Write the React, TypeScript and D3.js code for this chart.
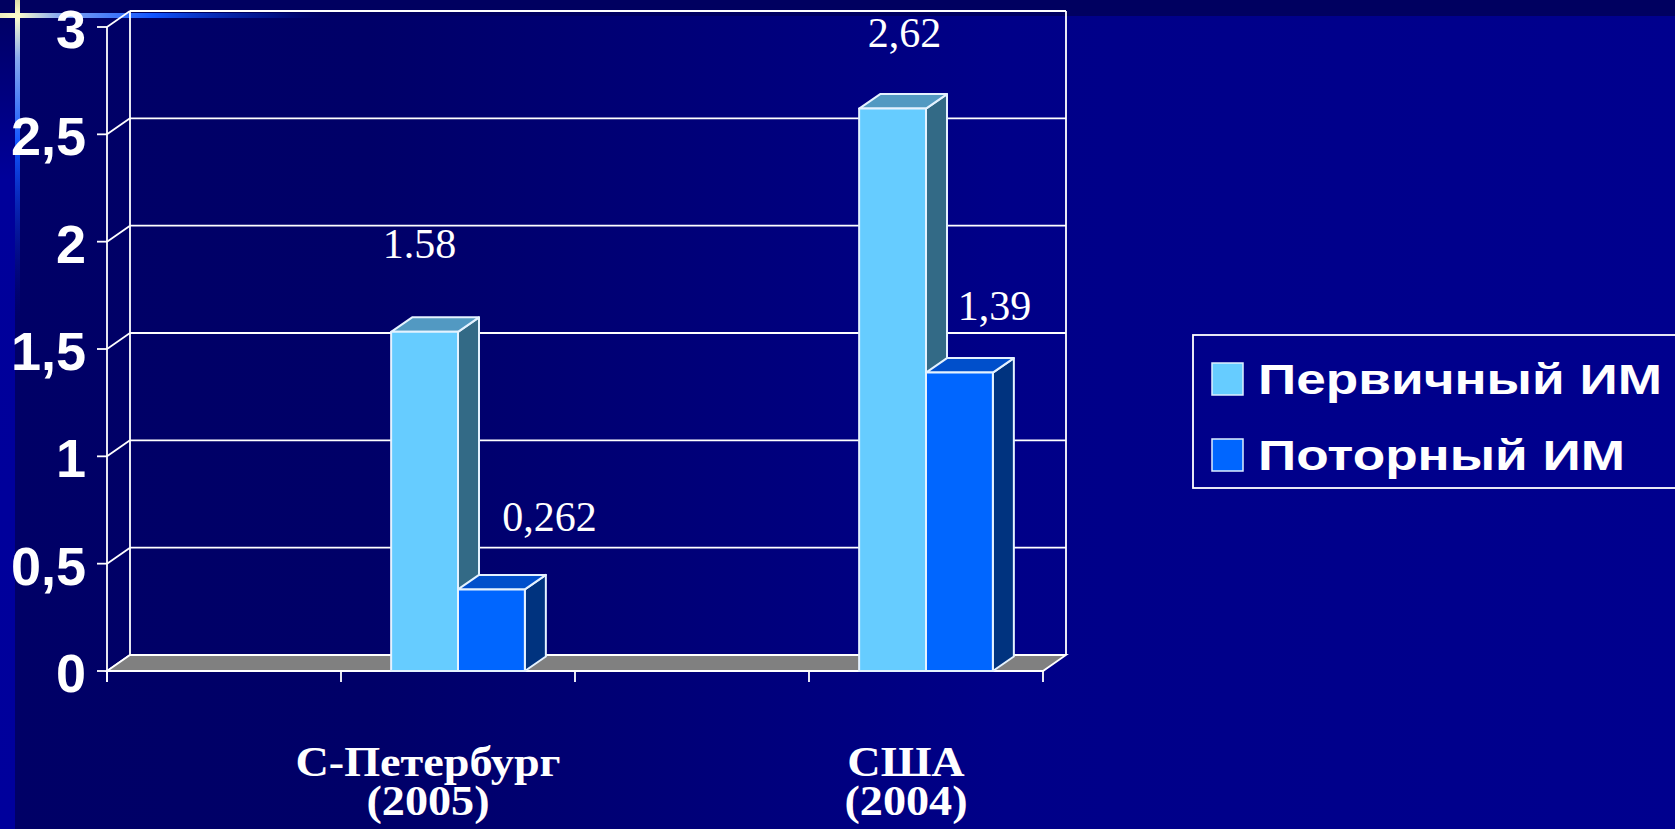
import React from "react";
import * as d3 from "d3";

// ---------- data ----------
const categories = ["c0", "spb", "c2", "usa"];
const categoryLines: string[][] = [[], ["С-Петербург", "(2005)"], [], ["США", "(2004)"]];
const seriesNames = ["Первичный ИМ", "Поторный ИМ"];
const primaryValues: (number | null)[] = [null, 1.58, null, 2.62];
const repeatValues: (number | null)[] = [null, 0.38, null, 1.39];
const primaryLabels = ["", "1.58", "", "2,62"];
const repeatLabels = ["", "0,262", "", "1,39"];
const yTicks = [0, 0.5, 1, 1.5, 2, 2.5, 3];
const yTickLabels = ["0", "0,5", "1", "1,5", "2", "2,5", "3"];

// ---------- layout / style ----------
const W = 1675;
const H = 829;
const PLOT_L = 107;
const PLOT_R = 1043;
const Y0 = 671;
const YTOP = 27;
const DX = 23;
const DY = 16;
const BDX = 21;
const BDY = 14.5;
const labelOffsets = [
  [null, [-5, -74], null, [12, -62]],
  [null, [58, -58], null, [35, -53]],
];
const catLabelShift = [0, -30, 0, -20];
const legendTextLen = [404, 367];

const faceColors = [
  { front: "#66CCFF", top: "#5299C2", side: "#336A86" },
  { front: "#0066FF", top: "#004FCB", side: "#00337F" },
];
const edge = "#E4F2FF";

export default function App() {
  const x0 = d3.scaleBand<string>().domain(categories).range([PLOT_L, PLOT_R]).paddingInner(0).paddingOuter(0);
  const x1 = d3
    .scaleBand<string>()
    .domain(seriesNames)
    .range([0, x0.bandwidth()])
    .paddingInner(0)
    .paddingOuter(0.75);
  const y = d3.scaleLinear().domain([0, 3]).range([Y0, YTOP]);

  const series = [primaryValues, repeatValues];
  const labels = [primaryLabels, repeatLabels];
  const boundaries = [...categories.map((c) => x0(c)!), PLOT_R];

  const bars: React.ReactNode[] = [];
  categories.forEach((c, ci) => {
    series.forEach((vals, si) => {
      const v = vals[ci];
      if (v == null) return;
      const x = x0(c)! + x1(seriesNames[si])!;
      const w = x1.bandwidth();
      const yt = y(v);
      const yb = y(0);
      const col = faceColors[si];
      bars.push(
        <g key={`b${ci}-${si}`} stroke={edge} strokeWidth={2} strokeLinejoin="round">
          <polygon
            points={`${x + w},${yt} ${x + w + BDX},${yt - BDY} ${x + w + BDX},${yb - BDY} ${x + w},${yb}`}
            fill={col.side}
          />
          <polygon
            points={`${x},${yt} ${x + BDX},${yt - BDY} ${x + w + BDX},${yt - BDY} ${x + w},${yt}`}
            fill={col.top}
          />
          <rect x={x} y={yt} width={w} height={yb - yt} fill={col.front} />
        </g>
      );
    });
  });

  const valueLabels: React.ReactNode[] = [];
  categories.forEach((c, ci) => {
    series.forEach((vals, si) => {
      const v = vals[ci];
      const off = labelOffsets[si][ci];
      if (v == null || !off) return;
      const cx = x0(c)! + x1(seriesNames[si])! + x1.bandwidth() / 2;
      valueLabels.push(
        <text
          key={`l${ci}-${si}`}
          x={cx + off[0]}
          y={y(v) + off[1]}
          textAnchor="middle"
          fill="#FFFFFF"
          fontFamily="'Liberation Serif', 'Times New Roman', serif"
          fontSize={42}
        >
          {labels[si][ci]}
        </text>
      );
    });
  });

  return (
    <div style={{ position: "absolute", left: 0, top: 0, width: W, height: H, overflow: "hidden" }}>
      <svg width={W} height={H} viewBox={`0 0 ${W} ${H}`} style={{ display: "block" }}>
        <defs>
          <linearGradient id="bg" x1="0" y1="0" x2="1" y2="0">
            <stop offset="0" stopColor="#000066" />
            <stop offset="0.22" stopColor="#000068" />
            <stop offset="0.6" stopColor="#000088" />
            <stop offset="1" stopColor="#00008E" />
          </linearGradient>
          <linearGradient id="leftStrip" x1="0" y1="0" x2="0" y2="1">
            <stop offset="0" stopColor="#000066" />
            <stop offset="0.2" stopColor="#00009A" />
            <stop offset="1" stopColor="#00009C" />
          </linearGradient>
          <linearGradient id="hline" x1="0" y1="0" x2="1" y2="0">
            <stop offset="0" stopColor="#EEEEC0" />
            <stop offset="0.05" stopColor="#FFFFCC" />
            <stop offset="0.17" stopColor="#88AAEE" />
            <stop offset="0.45" stopColor="#1155FF" />
            <stop offset="0.8" stopColor="#0022AA" stopOpacity="0.5" />
            <stop offset="1" stopColor="#000066" stopOpacity="0" />
          </linearGradient>
          <linearGradient id="vline" x1="0" y1="0" x2="0" y2="1">
            <stop offset="0" stopColor="#DDDDAA" />
            <stop offset="0.05" stopColor="#FFFFCC" />
            <stop offset="0.18" stopColor="#88AAEE" />
            <stop offset="0.45" stopColor="#1155FF" />
            <stop offset="1" stopColor="#00009C" stopOpacity="0" />
          </linearGradient>
        </defs>

        {/* background */}
        <rect x={0} y={0} width={W} height={H} fill="url(#bg)" />
        <rect x={0} y={0} width={W} height={16} fill="#000060" />
        <rect x={0} y={17} width={15} height={H - 17} fill="url(#leftStrip)" />
        <rect x={0} y={13} width={340} height={5} fill="url(#hline)" />
        <rect x={15} y={0} width={5} height={320} fill="url(#vline)" />

        {/* back wall grid */}
        <g stroke="#FFFFFF" strokeWidth={1.8} fill="none">
          {yTicks.slice(1).map((t) => (
            <line key={`g${t}`} x1={PLOT_L + DX} x2={PLOT_R + DX} y1={y(t) - DY} y2={y(t) - DY} />
          ))}
          {yTicks.map((t) => (
            <line key={`s${t}`} x1={PLOT_L} x2={PLOT_L + DX} y1={y(t)} y2={y(t) - DY} />
          ))}
          <line x1={PLOT_L + DX} x2={PLOT_L + DX} y1={y(3) - DY} y2={y(0) - DY} />
          <line x1={PLOT_R + DX} x2={PLOT_R + DX} y1={y(3) - DY} y2={y(0) - DY} />
        </g>

        {/* floor */}
        <polygon
          points={`${PLOT_L},${Y0} ${PLOT_R},${Y0} ${PLOT_R + DX},${Y0 - DY} ${PLOT_L + DX},${Y0 - DY}`}
          fill="#808080"
          stroke="#FFFFFF"
          strokeWidth={1.8}
        />

        {/* axes */}
        <g stroke="#FFFFFF" strokeWidth={1.8}>
          <line x1={PLOT_L} x2={PLOT_L} y1={y(3)} y2={Y0 + 11} />
          {yTicks.map((t) => (
            <line key={`yt${t}`} x1={PLOT_L - 10} x2={PLOT_L} y1={y(t)} y2={y(t)} />
          ))}
          <line x1={PLOT_L} x2={PLOT_R} y1={Y0} y2={Y0} />
          {boundaries.map((bx, i) => (
            <line key={`xt${i}`} x1={bx} x2={bx} y1={Y0} y2={Y0 + 11} />
          ))}
        </g>

        {/* y tick labels */}
        <g fill="#FFFFFF" fontFamily="'Liberation Sans', Arial, sans-serif" fontWeight="bold" fontSize={54}>
          {yTicks.map((t, i) => (
            <text key={`yl${t}`} x={86} y={y(t) + 21} textAnchor="end">
              {yTickLabels[i]}
            </text>
          ))}
        </g>

        {bars}
        {valueLabels}

        {/* category labels */}
        <g fill="#FFFFFF" fontFamily="'Liberation Serif', 'Times New Roman', serif" fontWeight="bold" fontSize={42}>
          {categories.map((c, ci) =>
            categoryLines[ci].length ? (
              <g
                key={`c${ci}`}
                transform={`translate(${x0(c)! + x0.bandwidth() / 2 + catLabelShift[ci]},0) scale(1.1,1)`}
              >
                <text x={0} y={776} textAnchor="middle">
                  {categoryLines[ci].map((ln, li) => (
                    <tspan key={li} x={0} dy={li === 0 ? 0 : 39}>
                      {ln}
                    </tspan>
                  ))}
                </text>
              </g>
            ) : null
          )}
        </g>

        {/* legend */}
        <rect x={1193} y={335} width={520} height={153} fill="none" stroke="#FFFFFF" strokeWidth={1.8} />
        {seriesNames.map((s, i) => (
          <g key={`lg${i}`}>
            <rect
              x={1212}
              y={363 + i * 76}
              width={31}
              height={32}
              fill={faceColors[i].front}
              stroke="#DDEEFF"
              strokeWidth={1.5}
            />
            <text
              x={1258}
              y={394 + i * 76}
              fill="#FFFFFF"
              fontFamily="'Liberation Sans', Arial, sans-serif"
              fontWeight="bold"
              fontSize={42}
              textLength={legendTextLen[i]}
              lengthAdjust="spacingAndGlyphs"
            >
              {s}
            </text>
          </g>
        ))}
      </svg>
    </div>
  );
}
